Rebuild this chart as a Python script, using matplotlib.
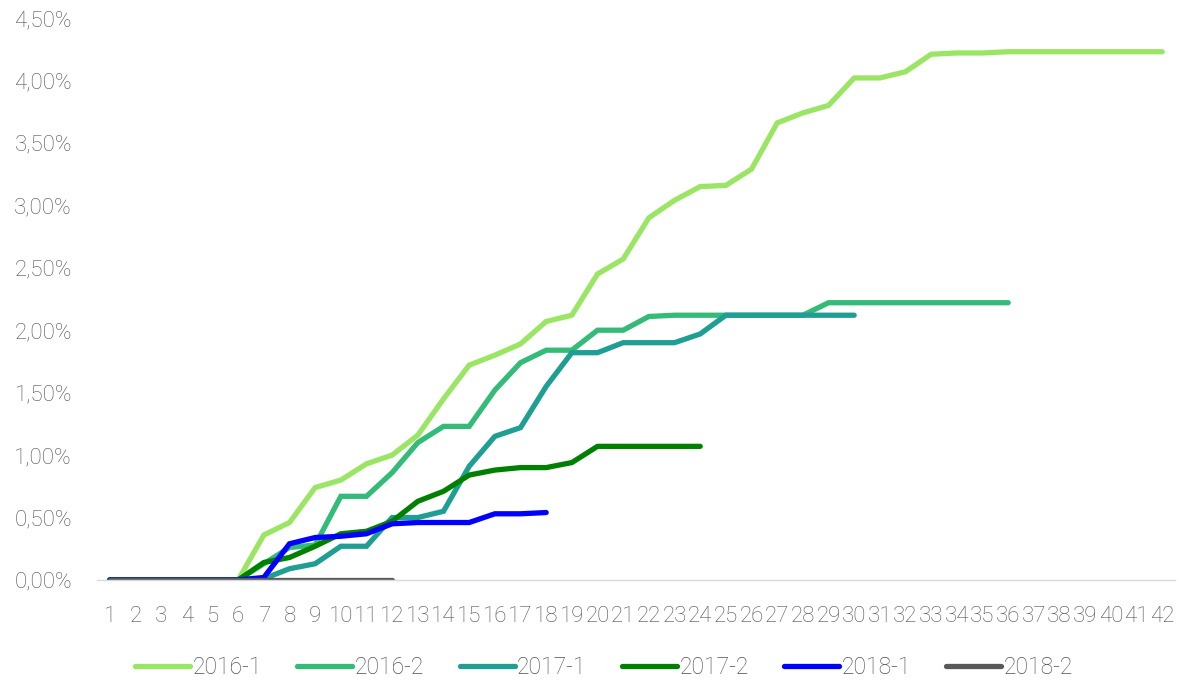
import matplotlib.pyplot as plt
import numpy as np
from matplotlib.ticker import FuncFormatter

periods = list(range(1, 43))

s2016_1 = [0, 0, 0, 0, 0, 0, 0.36, 0.46, 0.74, 0.80, 0.93, 1.00, 1.16, 1.45, 1.72,
           1.80, 1.89, 2.07, 2.12, 2.45, 2.57, 2.90, 3.04, 3.15, 3.16, 3.29, 3.66,
           3.74, 3.80, 4.02, 4.02, 4.07, 4.21, 4.22, 4.22, 4.23, 4.23, 4.23, 4.23,
           4.23, 4.23, 4.23]
s2016_2 = [0, 0, 0, 0, 0, 0, 0.13, 0.26, 0.28, 0.67, 0.67, 0.86, 1.10, 1.23, 1.23,
           1.52, 1.74, 1.84, 1.84, 2.00, 2.00, 2.11, 2.12, 2.12, 2.12, 2.12, 2.12,
           2.12, 2.22, 2.22, 2.22, 2.22, 2.22, 2.22, 2.22, 2.22]
s2017_1 = [0, 0, 0, 0, 0, 0, 0.01, 0.09, 0.13, 0.27, 0.27, 0.50, 0.50, 0.55, 0.91,
           1.15, 1.22, 1.55, 1.82, 1.82, 1.90, 1.90, 1.90, 1.97, 2.12, 2.12, 2.12,
           2.12, 2.12, 2.12]
s2017_2 = [0, 0, 0, 0, 0, 0, 0.14, 0.18, 0.27, 0.37, 0.39, 0.47, 0.63, 0.71, 0.84,
           0.88, 0.90, 0.90, 0.94, 1.07, 1.07, 1.07, 1.07, 1.07]
s2018_1 = [0, 0, 0, 0, 0, 0, 0.02, 0.29, 0.34, 0.35, 0.37, 0.45, 0.46, 0.46, 0.46,
           0.53, 0.53, 0.54]
s2018_2 = [0, 0, 0, 0, 0, 0, 0, 0, 0, 0, 0, 0]

labels = ["2016-1", "2016-2", "2017-1", "2017-2", "2018-1", "2018-2"]
colors = ["#9be564", "#33bb77", "#1f9e94", "#008000", "#0000ff", "#595959"]

TEXT_COLOR = "#505050"

plt.rcParams["font.family"] = ["Roboto", "DejaVu Sans"]


def pct_label(value, _pos):
    return f"{value:.2f}%".replace(".", ",")


def main():
    fig = plt.figure(figsize=(11.8, 6.82), dpi=100)
    ax = fig.add_axes([0.0822, 0.1496, 0.9136, 0.824])

    series = [s2016_1, s2016_2, s2017_1, s2017_2, s2018_1, s2018_2]
    for values, label, color in zip(series, labels, colors):
        ax.plot(periods[:len(values)], values, color=color, linewidth=3.8,
                solid_capstyle="round", solid_joinstyle="miter", label=label)

    ax.set_xlim(0.5, 42.5)
    ax.set_ylim(0, 4.5)
    ax.set_xticks(periods)
    ax.set_yticks(np.arange(0, 4.51, 0.5))
    ax.yaxis.set_major_formatter(FuncFormatter(pct_label))

    for side in ("top", "right", "left"):
        ax.spines[side].set_visible(False)
    ax.spines["bottom"].set_color("#d9d9d9")
    ax.spines["bottom"].set_linewidth(1.0)

    ax.tick_params(axis="both", length=0, labelsize=16, labelcolor=TEXT_COLOR)
    ax.tick_params(axis="x", pad=19)
    ax.tick_params(axis="y", pad=18)
    for lbl in ax.get_xticklabels() + ax.get_yticklabels():
        lbl.set_fontweight("light")

    leg = fig.legend(loc="center", bbox_to_anchor=(0.512, 0.021), ncol=6,
                     frameon=False, fontsize=16.5, handlelength=2.4,
                     handletextpad=0.1, columnspacing=1.55)
    for text in leg.get_texts():
        text.set_color(TEXT_COLOR)
        text.set_fontweight("light")

    fig.savefig("out.png", dpi=100)


if __name__ == "__main__":
    main()
